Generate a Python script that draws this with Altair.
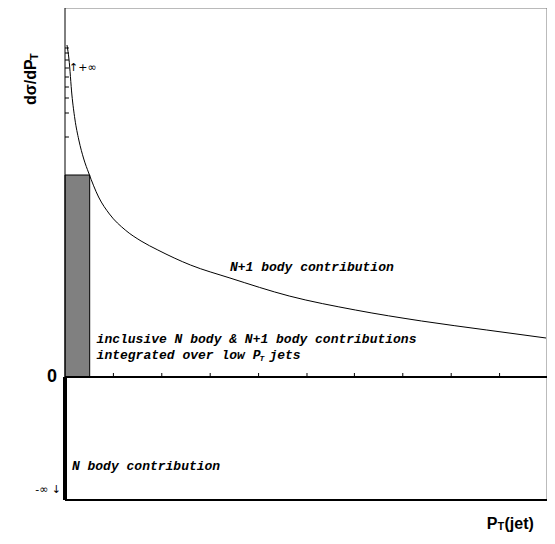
import pandas as pd
import altair as alt

# curve (N+1 body contribution), in plot units: x = P_T, y = dsigma/dP_T
curve_x = [2, 4, 7, 10, 14, 19, 24, 34, 45, 61, 77, 94, 127, 167, 227, 294, 361, 427, 487]
curve_y = [332, 318, 282, 258, 237, 218, 204, 180, 163, 147, 136, 127, 112, 99, 81, 67, 56, 47, 39]

# grey bin at low P_T
bin_x = [0]
bin_x2 = [25]
bin_y = [202]

# ticks
xtick_pos = [49, 98, 147, 196, 245, 293, 342, 391, 440]
ytick_pos = [329, 324, 317, 309, 300, 290, 279, 264, 240]

XMAX, YMIN, YMAX = 488, -123, 369
sx = alt.Scale(domain=[0, XMAX], nice=False, zero=False)
sy = alt.Scale(domain=[YMIN, YMAX], nice=False, zero=False)
noax = dict(axis=None)


def X(f="x"):
    return alt.X(f"{f}:Q", scale=sx, **noax)


def Y(f="y"):
    return alt.Y(f"{f}:Q", scale=sy, **noax)


curve = alt.Chart(pd.DataFrame({"x": curve_x, "y": curve_y})).mark_line(
    color="black", strokeWidth=1, interpolate="monotone"
).encode(x=X(), y=Y())

bins = alt.Chart(pd.DataFrame({"x": bin_x, "x2": bin_x2, "y": bin_y, "y0": [0]})).mark_rect(
    fill="#808080", stroke="black", strokeWidth=1
).encode(x=X(), x2="x2:Q", y=Y(), y2="y0:Q")

xt = alt.Chart(pd.DataFrame({"x": xtick_pos, "y": [0] * 9, "y2": [4] * 9})).mark_rule(
    color="black", strokeWidth=1
).encode(x=X(), y=Y(), y2="y2:Q")

yt = alt.Chart(pd.DataFrame({"x": [0] * 9, "x2": [4] * 9, "y": ytick_pos})).mark_rule(
    color="black", strokeWidth=1
).encode(x=X(), x2="x2:Q", y=Y())

# frame pieces
seg = pd.DataFrame({
    "x": [0, XMAX, 0, 0, 0, 0],
    "x2": [XMAX, XMAX, 0, 0, XMAX, XMAX],
    "y": [YMAX, YMAX, YMAX, 0, 0, YMIN],
    "y2": [YMAX, YMIN, 0, YMIN, 0, YMIN],
    "w": [1, 1, 1, 4, 2, 2],
    "c": ["#777", "#777", "black", "black", "black", "black"],
})
frame = alt.Chart(seg).mark_rule().encode(
    x=X(), x2="x2:Q", y=Y(), y2="y2:Q",
    strokeWidth=alt.StrokeWidth("w:Q", scale=None, legend=None),
    color=alt.Color("c:N", scale=None, legend=None),
)

mono = "Liberation Mono"
labels = pd.DataFrame({
    "x": [167, 32, 32, 207, 7],
    "y": [110, 38, 22, 22, -89],
    "t": ["N+1 body contribution",
          "inclusive N body & N+1 body contributions",
          "integrated over low P",
          "jets",
          "N body contribution"],
})
txt = alt.Chart(labels).mark_text(
    font=mono, fontSize=13, fontStyle="italic", fontWeight="bold", align="left", baseline="middle"
).encode(x=X(), y=Y(), text="t:N")

sub = alt.Chart(pd.DataFrame({"x": [197], "y": [18], "t": ["T"]})).mark_text(
    font=mono, fontSize=8, fontStyle="italic", fontWeight="bold", align="left", baseline="middle"
).encode(x=X(), y=Y(), text="t:N")

zero = alt.Chart(pd.DataFrame({"x": [-8], "y": [0], "t": ["0"]})).mark_text(
    font="Liberation Sans", fontSize=18, fontWeight="bold", align="right", baseline="middle"
).encode(x=X(), y=Y(), text="t:N")

inf_lo = alt.Chart(pd.DataFrame({"x": [-4], "y": [-113], "t": ["-∞ ↓"]})).mark_text(
    font="DejaVu Sans", fontSize=11, baseline="middle", align="right", color="black"
).encode(x=X(), y=Y(), text="t:N")
inf_hi = alt.Chart(pd.DataFrame({"x": [4], "y": [309], "t": ["↑+∞"]})).mark_text(
    font="DejaVu Sans", fontSize=11, baseline="middle", align="left", color="black"
).encode(x=X(), y=Y(), text="t:N")

ytitle = alt.Chart(pd.DataFrame({"x": [-34], "y": [272], "t": ["dσ/dP"]})).mark_text(
    font="Liberation Sans", fontSize=16, fontWeight="bold", angle=270, align="left", baseline="middle"
).encode(x=X(), y=Y(), text="t:N")
ytitle_sub = alt.Chart(pd.DataFrame({"x": [-30], "y": [317], "t": ["T"]})).mark_text(
    font="Liberation Sans", fontSize=11, fontWeight="bold", angle=270, align="left", baseline="middle"
).encode(x=X(), y=Y(), text="t:N")

xtitle = alt.Chart(pd.DataFrame({"x": [427, 438, 445], "y": [-147, -150, -147],
                                 "t": ["P", "T", "(jet)"], "s": [16, 11, 16]})).mark_text(
    font="Liberation Sans", fontWeight="bold", align="left", baseline="middle"
).encode(x=X(), y=Y(), text="t:N", size=alt.Size("s:Q", scale=None, legend=None))

chart = alt.layer(
    bins, curve, xt, yt, frame, txt, sub, zero, inf_lo, inf_hi, ytitle, ytitle_sub, xtitle
).properties(
    width=482, height=492,
    padding={"left": 57, "top": 0, "right": 0, "bottom": 36},
    autosize="none",
).configure_view(stroke=None)

chart.save("out.html", embed_options={"renderer": "svg", "actions": False})
